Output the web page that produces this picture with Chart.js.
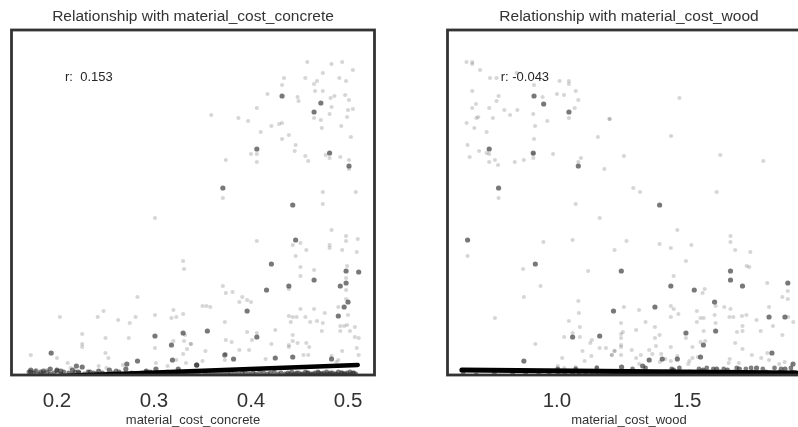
<!DOCTYPE html>
<html>
<head>
<meta charset="utf-8">
<script src="https://cdn.jsdelivr.net/npm/chart.js@4/dist/chart.umd.js"></script>
<style>
html, body { margin: 0; padding: 0; background: #fff; overflow: hidden; width: 798px; height: 427px; }
canvas { position: absolute; top: 0; filter: blur(0.5px); }
#chart1 { left: 0; }
#chart2 { left: 436px; }
</style>
</head>
<body>
<canvas id="chart1" width="400" height="427"></canvas>
<canvas id="chart2" width="400" height="427"></canvas>
<script>
// the y axis has no labels in the picture, so y is read as height above the bottom frame
var concreteTicks = [0.2, 0.3, 0.4, 0.5];
var woodTicks = [1.0, 1.5];

var concreteLightX = [.458,.483,.494,.505,.474,.491,.498,.456,.434,.432,.468,.465,.466,.474,.417,.448,.449,.482,.486,.497,.501,.483,.500,.505,.406,.359,.387,.397,.481,.499,.465,.472,.432,.429,.421,.473,.493,.410,.439,.432,.503,.446,.445,.400,.406,.456,.459,.477,.481,.492,.501,.374,.406,.501,.474,.508,.371,.474,
  .301,.330,.331,.283,.248,.242,.203,.263,.275,.281,.301,.320,.318,.323,.330,.226,.250,.274,.226,.226,.332,.320,.331,.338,.301,.334,.173,.200,.250,.253,.330,.323,.211,.302,.333,.243,.268,.314,.214,.251,.179,.189,
  .483,.498,.510,.498,.406,.451,.443,.481,.481,.457,.494,.509,.446,.451,.499,.465,.451,.498,.371,.381,.374,.391,.388,.396,.400,.498,.439,.498,.350,.354,.358,.451,.465,.476,.490,.500,.439,.443,.447,.456,.441,.461,.468,.474,.492,.496,.499,.507,.492,.502,.473,.373,.425,.396,.406,.443,.374,.380,.401,.421,.443,.448,.457,.439,.439,.460,.507,.511,.509,.338,.353,.374,.388,.398,.415,.454,.459,.494,.511,.350,.373,.373,.490,.483,.488];
var concreteLightY = [314,312,314,306,303,298,295,298,298,291,295,292,285,285,282,279,275,278,280,281,276,269,266,267,268,261,258,255,262,259,258,256,253,252,250,248,250,244,241,237,239,231,225,222,222,220,215,221,218,219,216,216,214,207,184,184,178,172,
  158,115,107,79,65,59,59,56,53,59,61,66,58,59,62,42,38,38,32,29,41,35,35,32,28,27,21,18,23,18,22,16,13,13,13,10,11,10,8,8,6,6,
  146,140,137,135,135,133,131,131,128,126,126,124,120,109,110,106,100,98,90,84,83,79,74,76,74,86,87,77,70,70,69,67,67,63,69,61,60,59,59,59,54,54,55,53,50,50,51,49,45,45,45,54,46,44,43,41,36,34,36,32,35,33,33,31,29,29,39,38,28,32,25,22,26,26,17,21,21,25,21,15,22,16,16,20,14];
var concreteDarkX = [.432,.472,.465,.406,.481,.501,.371,.443,
  .194,.301,.330,.318,.283,.319,.272,.220,.226,.344,.173,.186,.193,.200,.204,.216,.222,.234,.243,.254,.271,.292,.302,.325,.173,
  .446,.421,.498,.511,.465,.498,.492,.439,.416,.500,.496,.396,.490,.355,.406,.382,.425,.443,.483,.344,.373];
var concreteDarkY = [280,273,264,227,223,210,188,171,
  23,40,43,31,15,16,12,10,9,11,6,5,7,6,5,6,4,4,5,6,7,5,7,7,4,
  136,112,105,104,96,93,90,90,86,74,69,65,60,45,39,17,18,19,17,11,21];
// crowded strip along the bottom frame
var concreteBaseX = [.171,.176,.178,.181,.183,.186,.190,.193,.197,.200,.204,.207,.212,.216,.219,.223,.228,.232,.238,.241,.247,.252,.258,.261,.264,.270,.277,.280,.283,.288,.292,.296,.300,.305,.311,.314,.317,.322,.326,.329,.332,.335,.339,.343,.347,.352,.356,.360,.364,.368,.372,.376,.379,.383,.387,.391,.394,.398,.402,.405,.409,.413,.417,.420,.424,.428,.431,.435,.438,.442,.445,.449,.452,.456,.459,.462,.466,.469,.472,.475,.478,.481,.484,.487,.490,.493,.496,.499,.502,.505,.508,
  .437,.440,.444,.447,.451,.454,.458,.461,.464,.467,.470,.473,.476,.479,.482,.485,.488,.491,.494,.497,.500,.503,.506];
var concreteBaseY = [4,3,5,2,4,3,4,2,3,5,2,4,3,2,4,3,2,4,3,2,3,2,3,5,4,2,3,2,2,3,4,4,2,2,3,4,3,2,4,3,2,3,3,2,4,3,2,3,2,4,3,2,4,3,2,3,4,2,3,2,4,3,2,3,4,2,3,2,3,4,2,3,2,4,3,2,3,4,2,3,4,2,3,2,4,3,2,3,4,3,2,
  1,2,1,3,1,2,3,1,2,1,3,2,1,2,3,1,2,1,3,2,1,2,3];
var concreteFitX = [0.17, 0.51];
var concreteFitY = [-1.3, 11];

var woodLightX = [.653,.675,.675,.705,.743,.768,.845,.912,1.010,1.046,1.046,.675,1.072,.776,.945,1.0,1.027,1.082,.768,.689,.675,.740,.798,.848,1.068,.820,.909,.698,.691,.754,1.046,.963,1.201,.653,.683,.916,.730,1.157,.912,.657,.665,.701,.730,.740,.740,.762,.774,.838,.873,.909,.909,.985,1.092,1.082,1.182,.776,1.072,
  1.470,1.203,1.438,1.257,1.627,1.792,1.293,1.319,1.613,
  1.164,.948,1.060,1.221,.657,.870,1.120,.937,.873,1.082,1.084,.762,1.046,1.088,1.060,1.028,1.088,1.134,1.128,.917,1.164,1.188,1.098,1.221,1.132,1.211,1.020,1.106,1.003,1.153,1.072,1.028,
  1.462,1.666,1.666,1.267,1.394,1.516,1.437,1.684,1.742,1.495,1.728,1.738,1.448,1.807,1.886,1.567,1.559,1.865,1.886,1.257,1.315,1.437,1.448,1.466,1.437,1.537,1.551,1.563,1.609,1.642,1.666,1.605,1.662,1.677,1.710,1.727,1.814,1.766,1.888,1.907,1.246,1.340,1.537,1.609,1.712,1.829,1.253,1.246,1.304,1.376,1.394,1.376,1.563,1.691,1.712,1.782,1.865,1.495,1.246,1.246,1.246,1.380,1.437,1.520,1.551,1.569,1.684,1.712,1.287,1.354,1.221,1.210,1.246,1.322,1.304,1.366,1.400,1.416,1.437,1.462,1.520,1.541,1.508,1.504,1.663,1.659,1.748,1.784,1.807,1.814,1.698,1.395,1.874,1.853,1.316];
var woodLightY = [314,314,312,306,298,298,303,291,295,295,292,285,285,280,279,282,281,276,275,272,268,268,266,266,268,261,262,259,258,258,258,255,257,253,248,250,244,239,237,231,219,225,223,222,214,216,211,214,216,222,218,222,218,214,207,178,172,
  278,257,240,220,221,215,188,184,184,
  158,134,136,126,120,107,105,90,79,75,63,58,55,49,43,39,39,36,33,32,28,28,25,25,20,21,18,15,10,9,9,8,
  146,140,134,135,132,131,128,126,124,115,110,109,100,93,85,87,83,79,77,69,66,70,67,62,59,65,58,58,70,69,67,61,59,59,60,61,69,56,59,54,53,54,54,53,50,50,44,42,46,49,41,38,45,44,45,45,41,38,38,31,29,30,29,29,34,35,33,27,26,26,25,21,21,21,18,22,22,17,15,20,18,19,15,12,17,13,21,18,23,16,13,14,14,12,12];
var woodDarkX = [.912,.949,1.046,.740,.909,1.082,.776,1.394,
  .657,.917,1.247,1.217,1.060,1.164,.873,
  1.666,1.666,1.437,1.712,1.886,1.527,1.605,1.376,1.814,1.875,1.495,1.609,1.562,1.825,1.551,1.354,1.404,1.462,1.906,1.248,1.329,1.766,1.700,1.613,1.875,1.561,1.654,1.447];
var woodDarkY = [280,272,264,227,223,210,188,171,
  136,112,105,65,39,40,15,
  105,96,90,90,93,86,74,69,59,59,43,45,31,23,19,16,17,17,12,9,10,8,7,7,7,6,6,6];
var woodBaseX = [.640,.690,.760,.830,.880,.930,.970,1.005,1.030,1.060,1.085,1.110,1.135,1.155,1.175,1.195,1.215,1.232,1.250,1.268,1.285,1.300,1.318,1.335,1.352,1.370,1.388,1.405,1.420,1.438,1.455,1.472,1.490,1.508,1.525,1.542,1.560,1.575,1.592,1.610,1.628,1.645,1.662,1.680,1.698,1.715,1.732,1.750,1.768,1.785,1.802,1.820,1.838,1.855,1.872,1.888,1.902,1.914,
  1.210,1.224,1.238,1.255,1.272,1.290,1.308,1.326,1.344,1.362,1.380,1.398,1.415,1.432,1.450,1.468,1.485,1.502,1.520,1.536,1.552,1.570,1.585,1.602,1.620,1.636,1.654,1.672,1.690,1.706,1.724,1.742,1.760,1.778,1.795,1.812,1.830,1.846,1.864,1.880,1.896,1.910,
  1.003,1.072,1.153,1.290,1.340,1.440,1.470,1.545,1.575,1.600,1.640,1.690,1.725,1.745,1.790,1.835,1.860,1.898];
var woodBaseY = [2,1,2,3,2,2,3,2,3,2,3,2,2,3,2,3,2,4,3,2,3,2,4,3,2,3,2,3,4,2,3,2,3,4,2,3,4,2,3,2,4,3,2,4,3,2,3,4,2,3,4,3,2,4,3,2,4,3,
  1,2,3,1,2,3,1,2,3,1,2,3,1,2,3,1,2,3,1,2,3,1,2,3,1,2,3,1,2,3,1,2,3,1,2,3,1,2,3,1,2,3,
  7,7,8,7,8,7,8,7,8,7,7,8,7,8,7,8,7,8];
var woodFitX = [0.635, 1.92];
var woodFitY = [6, 3];

var titles = ["Relationship with material_cost_concrete", "Relationship with material_cost_wood"];
var xLabels = ["material_cost_concrete", "material_cost_wood"];
var rLabels = ["r:  0.153", "r: -0.043"];

function zip(xs, ys) {
  return xs.map(function (x, i) { return { x: x, y: ys[i] }; });
}

var framePlugin = {
  id: "frame",
  afterDatasetsDraw: function (chart, args, opts) {
    var a = chart.chartArea, c = chart.ctx;
    c.save();
    c.fillStyle = "#262626";
    c.font = opts.rFont;
    c.textBaseline = "middle";
    c.fillText(opts.rText, chart.scales.x.getPixelForValue(opts.rX), chart.scales.y.getPixelForValue(opts.rY));
    c.strokeStyle = "#333333";
    c.lineWidth = 2.8;
    c.strokeRect(a.left + 0.5, a.top, a.right - a.left - 1, a.bottom - a.top - 1);
    c.restore();
  }
};

function makeChart(id, idx, lx, ly, dx, dy, bx, by, fx, fy, xmin, xmax, ticks, rX, lineW) {
  return new Chart(document.getElementById(id), {
    type: "scatter",
    plugins: [framePlugin],
    data: {
      datasets: [
        { data: zip(fx, fy), showLine: true, borderColor: "#000", borderWidth: lineW, pointRadius: 0, borderCapStyle: "round" },
        { data: zip(dx, dy), pointRadius: 2.6, borderWidth: 0, backgroundColor: "rgba(50,50,50,0.66)" },
        { data: zip(bx, by), pointRadius: 2.4, borderWidth: 0, backgroundColor: "rgba(50,50,50,0.62)" },
        { data: zip(lx, ly), pointRadius: 2.1, borderWidth: 0, backgroundColor: "rgba(70,70,70,0.22)" }
      ]
    },
    options: {
      responsive: false,
      animation: false,
      layout: { padding: { left: 11, right: 25, top: 0, bottom: 0 } },
      plugins: {
        legend: { display: false },
        tooltip: { enabled: false },
        title: {
          display: true,
          text: titles[idx],
          color: "#333",
          font: { family: "Liberation Sans", size: 15.5, weight: "normal", lineHeight: 1.2 },
          padding: { top: 7, bottom: 4.4 }
        },
        frame: { rText: rLabels[idx], rX: rX, rY: 299, rFont: "13px 'Liberation Sans'" }
      },
      scales: {
        x: {
          type: "linear",
          min: xmin,
          max: xmax,
          afterBuildTicks: function (s) { s.ticks = ticks.map(function (v) { return { value: v }; }); },
          afterFit: function (s) { s.height = 51; },
          grid: { display: false },
          border: { display: false },
          ticks: {
            autoSkip: false,
            maxRotation: 0,
            padding: 5,
            color: "#333",
            font: { family: "Liberation Sans", size: 20.5 },
            callback: function (v) { return Number(v).toFixed(1); }
          },
          title: {
            display: true,
            text: xLabels[idx],
            color: "#333",
            font: { family: "Liberation Sans", size: 13 },
            padding: { top: 0, bottom: -1 }
          }
        },
        y: { display: false, min: 0, max: 346 }
      }
    }
  });
}

makeChart("chart1", 0, concreteLightX, concreteLightY, concreteDarkX, concreteDarkY, concreteBaseX, concreteBaseY, concreteFitX, concreteFitY, 0.1526, 0.5278, concreteTicks, 0.2083, 4.5);
makeChart("chart2", 1, woodLightX, woodLightY, woodDarkX, woodDarkY, woodBaseX, woodBaseY, woodFitX, woodFitY, 0.578, 1.975, woodTicks, 0.784, 5);
</script>
</body>
</html>
